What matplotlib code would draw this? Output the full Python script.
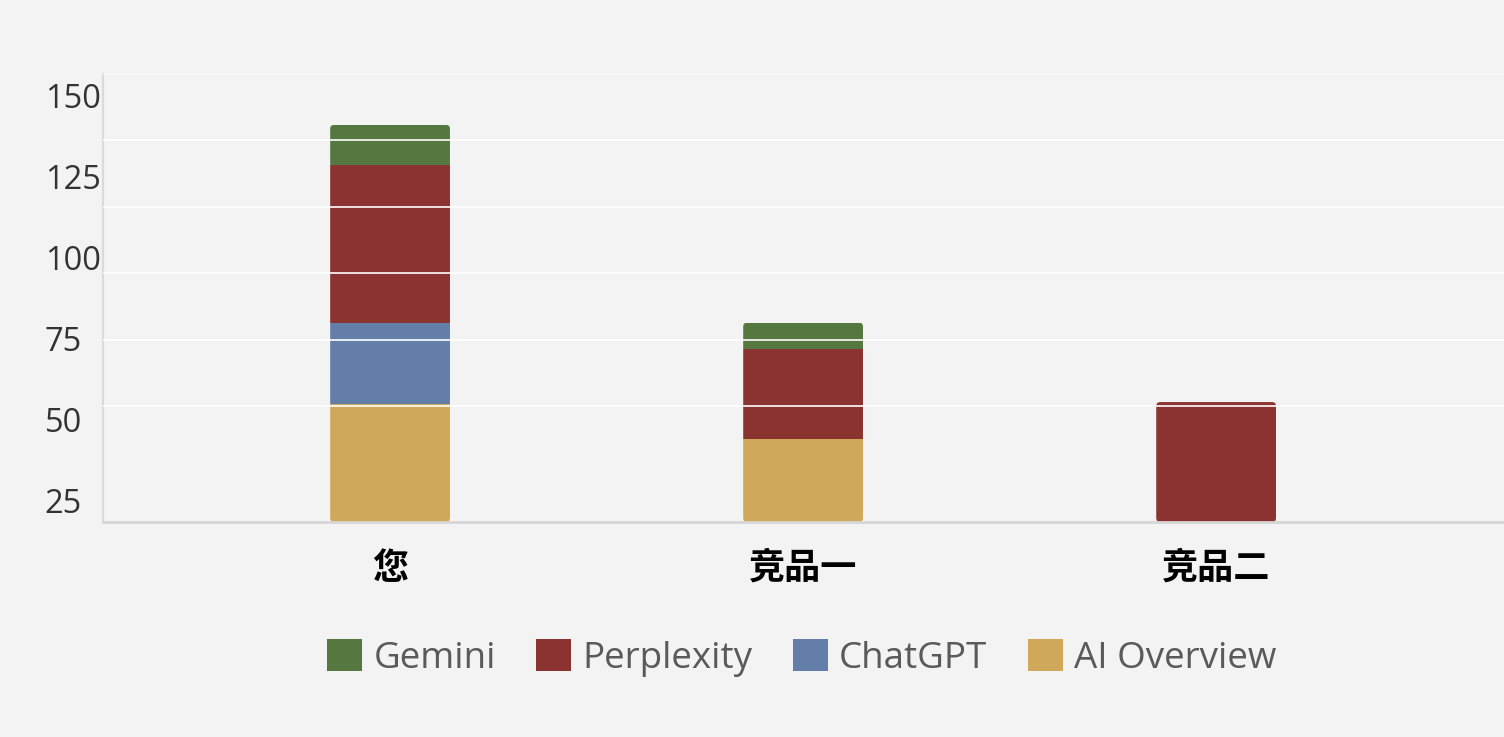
import matplotlib
matplotlib.use('Agg')
import matplotlib.pyplot as plt
import numpy as np
from matplotlib.patches import Patch, FancyBboxPatch

plt.rcParams['font.family'] = ['Open Sans', 'Noto Sans CJK SC', 'DejaVu Sans']

# data
categories = ['您', '竞品一', '竞品二']
series_names = ['AI Overview', 'ChatGPT', 'Perplexity', 'Gemini']  # bottom -> top
ai_overview = [55, 44, 0]
chatgpt = [25, 0, 0]
perplexity = [48.5, 28, 55.5]
gemini = [12.5, 8, 0]
y_ticks = [25, 50, 75, 100, 125, 150]

colors = {
    'AI Overview': '#cfa85a',
    'ChatGPT': '#637ea8',
    'Perplexity': '#8b3330',
    'Gemini': '#557840',
}
bg = '#f3f3f3'
bar_w = 0.29

fig = plt.figure(figsize=(15.04, 7.37), dpi=100, facecolor=bg)
ax = fig.add_axes([0.0685, 0.2917, 0.9315, 0.6079])
ax.set_facecolor(bg)
ax.set_xlim(-0.695, 2.697)
ax.set_ylim(18.5, 156.7)

x = np.arange(len(categories))
bottom = np.zeros(len(categories))
segments = []
for name, vals in zip(series_names, [ai_overview, chatgpt, perplexity, gemini]):
    vals = np.array(vals, dtype=float)
    bars = ax.bar(x, vals, bar_w, bottom=bottom, color=colors[name], zorder=2, linewidth=0)
    segments.append(bars)
    bottom += vals

# rounded corners: clip each stack to a rounded box
ymin = ax.get_ylim()[0]
fig.canvas.draw()
bbox = ax.get_window_extent()
px_x = bbox.width / (ax.get_xlim()[1] - ax.get_xlim()[0])
px_y = bbox.height / (ax.get_ylim()[1] - ax.get_ylim()[0])
radius_px = 4
for i, total in enumerate(bottom):
    clip = FancyBboxPatch((x[i] - bar_w / 2, ymin), bar_w, total - ymin,
                          boxstyle=f'round,pad=0,rounding_size={radius_px / px_x}',
                          mutation_aspect=px_x / px_y, transform=ax.transData,
                          facecolor='none', edgecolor='none')
    ax.add_patch(clip)
    for bars in segments:
        bars[i].set_clip_path(clip)

# white grid lines drawn over the bars, as in the reference
for k in range(6):
    ax.axhline(156.7 - 20.5 * k, color='white', lw=1.2, zorder=3)

ax.set_yticks(y_ticks)
ax.set_yticklabels([str(v) for v in y_ticks], fontsize=23.5, color='#333333', ha='left')
ax.tick_params(axis='y', length=0, pad=42)
ax.set_xticks(x)
ax.set_xticklabels(categories, fontsize=26, fontweight='bold', color='black',
                   family=['Noto Sans CJK SC', 'DejaVu Sans'])
ax.tick_params(axis='x', length=0, pad=20)

for s in ['top', 'right']:
    ax.spines[s].set_visible(False)
ax.spines['left'].set_color('#dadada')
ax.spines['left'].set_linewidth(1.5)
ax.spines['bottom'].set_color('#d6d6d6')
ax.spines['bottom'].set_linewidth(2)

handles = [Patch(facecolor=colors[n], edgecolor='none', label=n) for n in series_names[::-1]]
leg = fig.legend(handles=handles, loc='center', bbox_to_anchor=(0.533, 0.107), ncol=4,
                 frameon=False, fontsize=26.5, handlelength=0.95, handleheight=0.95,
                 handletextpad=0.3, columnspacing=1.1)
for t in leg.get_texts():
    t.set_color('#5a5a5a')

fig.savefig('out.png', dpi=100, facecolor=bg)
